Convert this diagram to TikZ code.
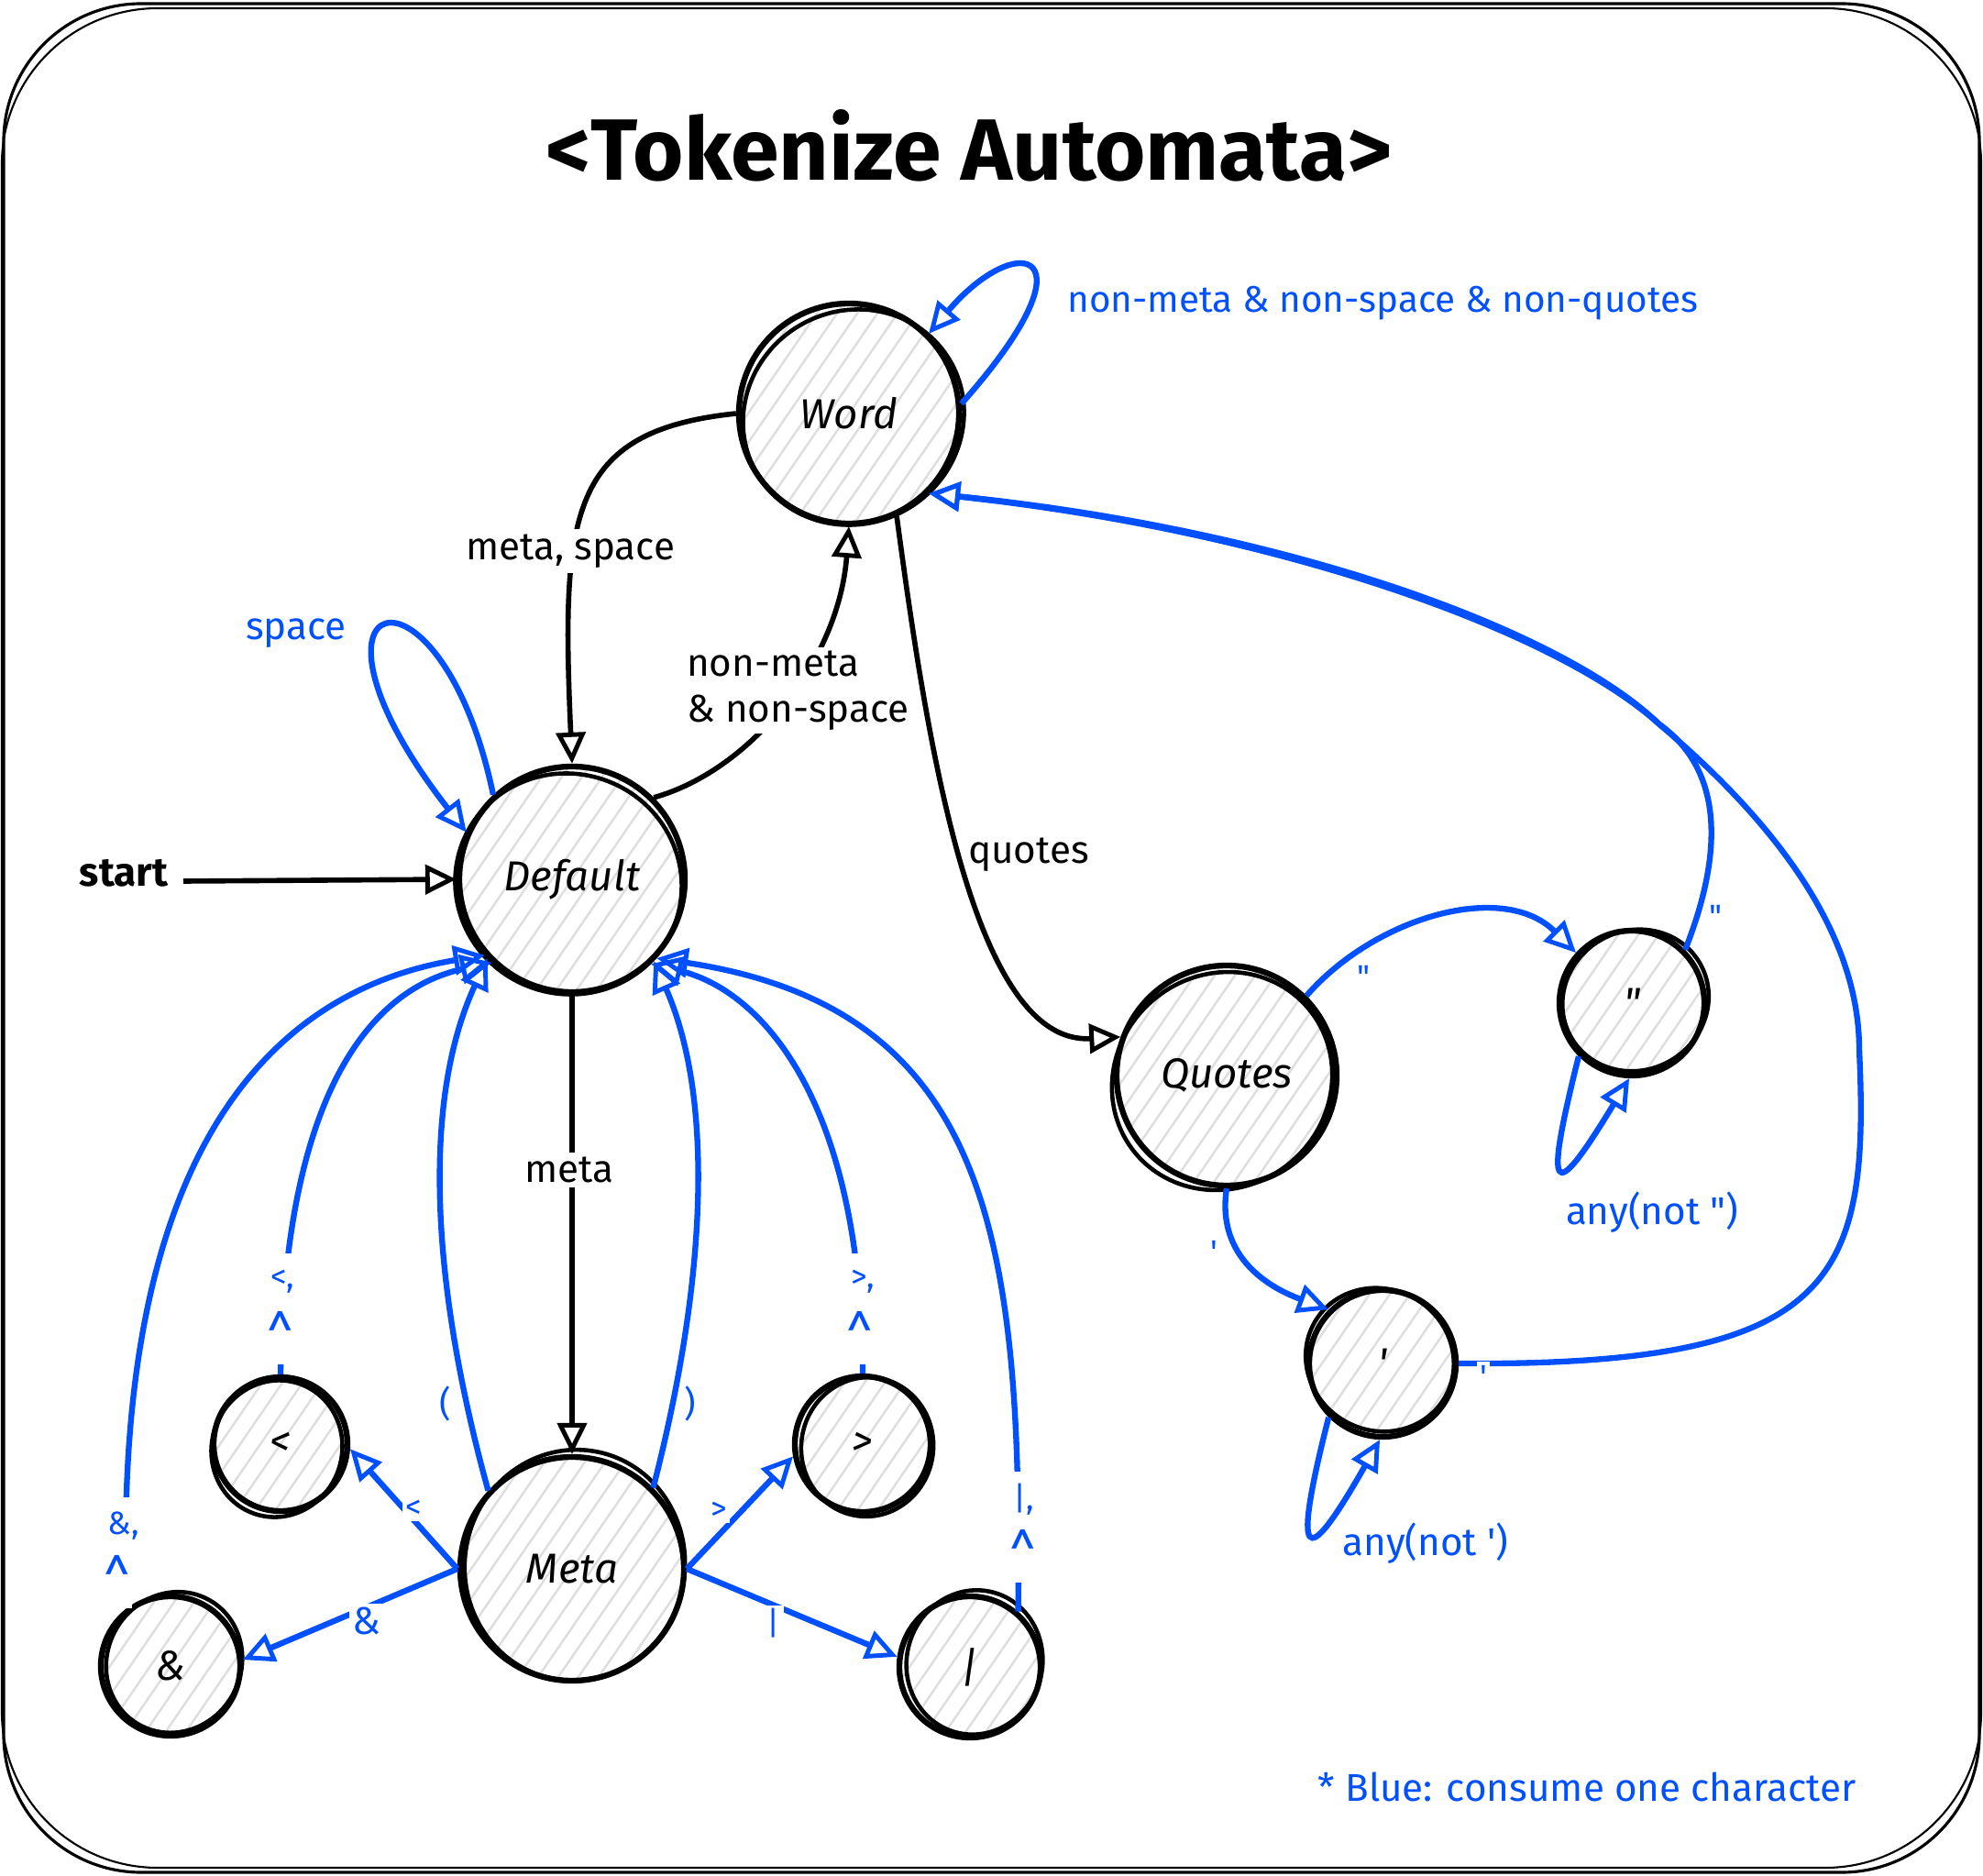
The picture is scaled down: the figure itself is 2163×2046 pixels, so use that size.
\documentclass[tikz,border=0pt]{standalone}
\usepackage{fontspec}
\setmainfont{Fira Sans}
\usetikzlibrary{arrows.meta}
\definecolor{inkblue}{RGB}{0,80,255}
\definecolor{hatchgray}{RGB}{222,222,222}
% second, slightly offset stroke around a state: node, x radius, y radius, shift, rotation
\newcommand\sketchring[5]{%
  \draw[line width=1.3pt] ([shift={(#4)}]#1.center) ellipse [x radius=#2, y radius=#3, rotate=#5];}
\newcommand\caretmark{\scalebox{1.5}[1.9]{\textasciicircum}}

\begin{document}
\begin{tikzpicture}[x=0.1mm, y=-0.1mm,
  every node/.style={font=\fontsize{12}{14.4}\selectfont},
  state/.style={circle, draw, line width=1.8pt, inner sep=0pt, fill=white,
    font=\fontsize{13}{15}\selectfont\itshape,
    path picture={\foreach \k in {-12,...,12}{\draw[hatchgray, line width=0.7pt]
      ([shift={(\k*2.2mm-11mm,-16mm)}]path picture bounding box.center) -- ++(22mm,32mm);}}},
  edge/.style={line width=1.6pt, -{Triangle[open, length=3.4mm, width=3.2mm, line width=1.4pt]}},
  bedge/.style={edge, line width=1.8pt, draw=inkblue},
  lab/.style={fill=white, inner sep=1.5pt},
  blab/.style={text=inkblue, fill=white, inner sep=1pt, font=\fontsize{10}{11}\selectfont},
  pairlab/.style={blab, anchor=north, minimum height=6.2mm},
  caret/.style={blab, inner sep=0.5pt, anchor=north}
]
\useasboundingbox (0,0) rectangle (2163,2046);

% frame
\draw[line width=0.9pt, rounded corners=15mm] (4,4) rectangle (2159,2042);
\draw[line width=0.6pt, rounded corners=17mm] (2,9) rectangle (2161,2037);

% title
\node[font=\fontsize{27}{32}\selectfont\bfseries] (title) at (1057,159) {<Tokenize Automata>};

% states
\node[state, minimum size=24mm]   (word)    at (926,451)   {Word};
\node[state, minimum size=24.6mm] (default) at (624,959)   {Default};
\node[state, minimum size=24.4mm] (meta)    at (624,1711)  {Meta};
\node[state, minimum size=24mm]   (quotes)  at (1338,1173) {Quotes};
\node[state, minimum size=15.8mm] (dq)      at (1780,1094) {\textquotedbl};
\node[state, minimum size=16mm]   (apos)    at (1508,1487) {\textquotesingle};
\node[state, minimum size=14.6mm] (lt)      at (306,1575)  {<};
\node[state, minimum size=14.8mm] (gt)      at (941,1575)  {>};
\node[state, minimum size=15.2mm] (amp)     at (186,1817)  {\&};
\node[state, minimum size=15.4mm] (bar)     at (1058,1818) {|};

\sketchring{word}{12.2mm}{11.6mm}{0.5mm,-0.4mm}{30}
\sketchring{default}{12.4mm}{12.0mm}{-0.4mm,-0.5mm}{-20}
\sketchring{meta}{12.6mm}{12.0mm}{0.3mm,0.4mm}{80}
\sketchring{quotes}{12.3mm}{11.6mm}{-0.5mm,-0.6mm}{40}
\sketchring{dq}{8.1mm}{7.6mm}{0.4mm,0.3mm}{30}
\sketchring{apos}{8.2mm}{7.7mm}{-0.3mm,0.4mm}{-30}
\sketchring{lt}{7.5mm}{7.1mm}{-0.4mm,-0.5mm}{70}
\sketchring{gt}{7.6mm}{7.2mm}{0.5mm,-0.3mm}{80}
\sketchring{amp}{7.8mm}{7.3mm}{0.4mm,0.4mm}{60}
\sketchring{bar}{7.9mm}{7.4mm}{0.5mm,0.5mm}{75}

% black transitions
\coordinate (start) at (200,961);
\node[font=\fontsize{12.5}{15}\selectfont\bfseries] (startlab) at (135,952) {start};
\draw[edge] (start) -- (default.west);
\draw[edge] (word.west) .. controls (620,470) and (612,560) .. (default.north);
\draw[edge] (default.45) .. controls (820,840) and (915,720) .. (word.south);
\draw[edge] (word.-65) .. controls (1010,800) and (1060,1140) .. (quotes.160);
\draw[edge] (default.south) -- (meta.north);

\node[lab] (l-ms) at (622,601) {meta, space};
\node[lab, align=left, anchor=west, inner sep=1pt] (l-nm) at (745,753) {non-meta\\\& non-space};
\node (l-q) at (1122,932) {quotes};
\node[lab] (l-m) at (621,1276) {meta};

% blue self loops
\draw[bedge] (word.5) .. controls (1200,270) and (1110,250) .. (word.45);
\node[text=inkblue, anchor=west, font=\fontsize{11.5}{14}\selectfont] (l-w) at (1152,331) {non-meta \& non-space \& non-quotes};
\draw[bedge] (default.133) .. controls (480,590) and (300,640) .. (default.156);
\node[text=inkblue] (l-sp) at (323,691) {space};
\draw[bedge] (dq.225) .. controls (1685,1300) and (1690,1320) .. (dq.268);
\node[text=inkblue] (l-dq) at (1802,1322) {any(not \textquotedbl)};
\draw[bedge] (apos.225) .. controls (1410,1700) and (1420,1720) .. (apos.268);
\node[text=inkblue] (l-ap) at (1555,1683) {any(not \textquotesingle)};

% quote handling
\draw[bedge] (quotes.45) .. controls (1500,1000) and (1640,960) .. (dq.138);
\draw[bedge] (quotes.south) .. controls (1325,1380) and (1400,1410) .. (apos.135);
\draw[bedge] (dq.45) .. controls (1880,930) and (1880,840) .. (1810,790)
  .. controls (1700,690) and (1400,580) .. (word.-45);
\draw[bedge] (apos.east) .. controls (2000,1490) and (2040,1400) .. (2028,1145)
  .. controls (2028,1020) and (1940,900) .. (1810,790)
  .. controls (1705,688) and (1405,578) .. (word.-45);
\node[blab] (l-qd) at (1487,1065) {\textquotedbl};
\node[blab] (l-dw) at (1871,999) {\textquotedbl};
\node[blab] (l-qa) at (1324,1365) {\textquotesingle};
\node[blab] (l-aw) at (1618,1501) {\textquotesingle};

% meta characters
\draw[bedge] (meta.west) -- (lt.-4);
\draw[bedge] (meta.west) -- (amp.5);
\draw[bedge] (meta.east) -- (gt.190);
\draw[bedge] (meta.east) -- (bar.172);
\node[blab] (l-lt) at (451,1646) {<};
\node[blab, font=\fontsize{12}{14}\selectfont] (l-amp) at (400,1768) {\&};
\node[blab] (l-gt) at (784,1648) {>};
\node[blab] (l-bar) at (844,1770) {|};

\draw[bedge] (meta.137) .. controls (470,1400) and (460,1200) .. (default.223);
\draw[bedge] (meta.45) .. controls (770,1400) and (780,1200) .. (default.-45);
\node[text=inkblue, font=\fontsize{11}{12}\selectfont] (l-op) at (486,1531) {(};
\node[text=inkblue, font=\fontsize{11}{12}\selectfont] (l-cp) at (753,1531) {)};

\draw[bedge] (lt.north) .. controls (310,1200) and (400,1080) .. (default.226);
\draw[bedge] (gt.north) .. controls (940,1200) and (830,1080) .. (default.-47);
\draw[bedge] (amp.127) .. controls (120,1250) and (300,1080) .. (default.221);
\draw[bedge] (bar.49) .. controls (1115,1350) and (1080,1100) .. (default.-43);
\node[pairlab] (l-ltd) at (308,1366) {<,};
\node[caret] (c-ltd) at (306,1428) {\caretmark};
\node[pairlab] (l-gtd) at (941,1366) {>,};
\node[caret] (c-gtd) at (938,1428) {\caretmark};
\node[pairlab] (l-ampd) at (135,1632) {\&,};
\node[caret] (c-ampd) at (128,1694) {\caretmark};
\node[pairlab] (l-bard) at (1117,1604) {|,};
\node[caret] (c-bard) at (1116,1666) {\caretmark};

% legend
\node[text=inkblue] (legend) at (1731,1949) {* Blue: consume one character};
\end{tikzpicture}
\end{document}
